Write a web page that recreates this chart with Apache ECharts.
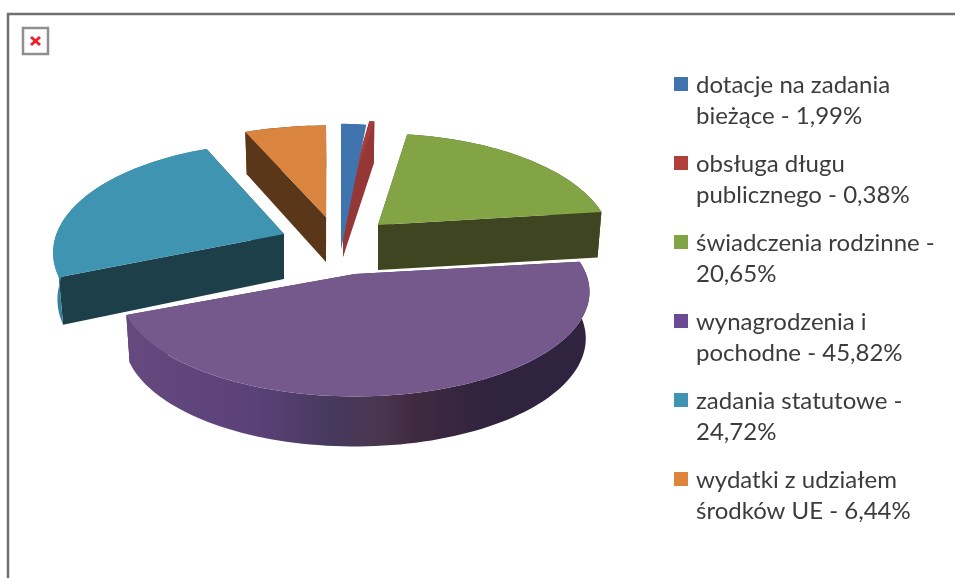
<!DOCTYPE html>
<html>
<head>
<meta charset="utf-8">
<style>
  html, body { margin: 0; padding: 0; background: #fff; }
  #chart { width: 955px; height: 578px; filter: blur(0.6px); }
</style>
<script src="https://cdn.jsdelivr.net/npm/echarts@6/dist/echarts.min.js"></script>
</head>
<body>
<div id="chart"></div>
<script>
const categories = [
  'dotacje na zadania\nbieżące - 1,99%',
  'obsługa długu\npublicznego - 0,38%',
  'świadczenia rodzinne -\n20,65%',
  'wynagrodzenia i\npochodne - 45,82%',
  'zadania statutowe -\n24,72%',
  'wydatki z udziałem\nśrodków UE - 6,44%'
];
const values = [1.99, 0.38, 20.65, 45.82, 24.72, 6.44];

// styles
const faceColors = ['#3f74ae', '#a33e3c', '#83a444', '#76598c', '#3f95b1', '#d9843f'];
const sideColors = ['#3f74ae', '#953735', '#3f4520', '#402a50', '#1d3f4a', '#5a3718'];
const arcColors = ['#3f74ae', '#953735', '#3f4520', null, '#357f98', '#5a3718'];
const legendColors = ['#3f74ae', '#b03f3c', '#83a444', '#6b4a94', '#3f95b1', '#dc843c'];
const purpleWall = [[0, '#65497f'], [0.28, '#5a4177'], [0.45, '#46395c'], [0.55, '#4a3550'], [0.62, '#402a40'], [0.78, '#30233f'], [1, '#2f2340']];
const offsets = [[-1, 0], [1, -38], [36, -25], [13, 24], [-58, -16], [-16, -33]];
const depthScale = [1.38, 1, 1, 0.95, 1, 1];
const widthScale = [1, 1.04, 0.97, 0.975, 0.96, 1];
const drawOrder = [2, 1, 3, 5, 4, 0];

const centerX = 342, centerY = 250;
const radiusX = 237, radiusY = 107, persp = 0.17;

const total = values.reduce((a, b) => a + b, 0);
const starts = [];
values.reduce((sum, v, i) => { starts[i] = sum; return sum + v; }, 0);

function renderSlice(params, api) {
  const i = params.seriesIndex;
  const a0 = starts[i] / total * Math.PI * 2;
  const a1 = a0 + api.value(0) / total * Math.PI * 2;
  const ax = centerX + offsets[i][0], ay = centerY + offsets[i][1];

  function top(a) {
    const k = 1 / (1 + persp * Math.cos(a));
    return [
      ax + radiusX * widthScale[i] * Math.sin(a) * k,
      ay - radiusY * depthScale[i] * Math.cos(a) * k
    ];
  }
  function drop(p, a) {
    const h = 46 - 4 * Math.cos(a);
    return [p[0] + (centerX - p[0]) * 0.015, p[1] + h];
  }

  const arc = [];
  const steps = Math.max(2, Math.ceil((a1 - a0) / 0.03));
  for (let s = 0; s <= steps; s++) arc.push(a0 + (a1 - a0) * s / steps);

  const apex = [ax, ay];
  const apexLow = [ax, ay + 45];
  const children = [];
  const z = drawOrder[i] * 10;

  // blue only shows its top face in the picture
  if (i !== 0) {
    const pa = top(a0), pb = top(a1);
    children.push({ type: 'polygon', z2: z, shape: { points: [apex, pa, drop(pa, a0), apexLow] }, style: { fill: sideColors[i] } });
    children.push({ type: 'polygon', z2: z + 1, shape: { points: [apex, pb, drop(pb, a1), apexLow] }, style: { fill: sideColors[i] } });
    const upper = arc.map(top);
    const lower = arc.map((a, n) => drop(upper[n], a)).reverse();
    const fill = i === 3
      ? { type: 'linear', x: 0, y: 0, x2: 1, y2: 0, colorStops: purpleWall.map(s => ({ offset: s[0], color: s[1] })) }
      : arcColors[i];
    children.push({ type: 'polygon', z2: z + 2, shape: { points: upper.concat(lower) }, style: { fill: fill } });
  }
  children.push({
    type: 'polygon', z2: z + 3,
    shape: { points: [apex].concat(arc.map(top)) },
    style: { fill: faceColors[i] }
  });
  return { type: 'group', children: children };
}

const chart = echarts.init(document.getElementById('chart'));
chart.setOption({
  animation: false,
  backgroundColor: '#fff',
  legend: {
    orient: 'vertical',
    left: 669,
    top: 65,
    selectedMode: false,
    itemWidth: 14,
    itemHeight: 62,
    itemGap: 17,
    icon: 'path://M0 0L0 0M0 7H14V21H0ZM0 62L0 62',
    textStyle: { fontFamily: 'Lato', fontSize: 24, lineHeight: 31, color: '#3c3c3c', padding: [0, 0, 0, 3] },
    data: categories
  },
  graphic: [
    { type: 'polyline', shape: { points: [[8, 578], [8, 14], [955, 14]] }, style: { fill: 'none', stroke: '#6f6f6f', lineWidth: 2.5 } },
    { type: 'rect', shape: { x: 23, y: 28, width: 25, height: 26 }, style: { fill: '#fff', stroke: '#8f8f8f', lineWidth: 2.5 } },
    { type: 'line', shape: { x1: 31, y1: 37, x2: 40, y2: 45 }, style: { stroke: '#f0202a', lineWidth: 3 } },
    { type: 'line', shape: { x1: 40, y1: 37, x2: 31, y2: 45 }, style: { stroke: '#f0202a', lineWidth: 3 } }
  ],
  series: categories.map((name, i) => ({
    type: 'custom',
    name: name,
    coordinateSystem: 'none',
    renderItem: renderSlice,
    itemStyle: { color: legendColors[i] },
    silent: true,
    z: drawOrder[i],
    data: [values[i]]
  }))
});
</script>
</body>
</html>
